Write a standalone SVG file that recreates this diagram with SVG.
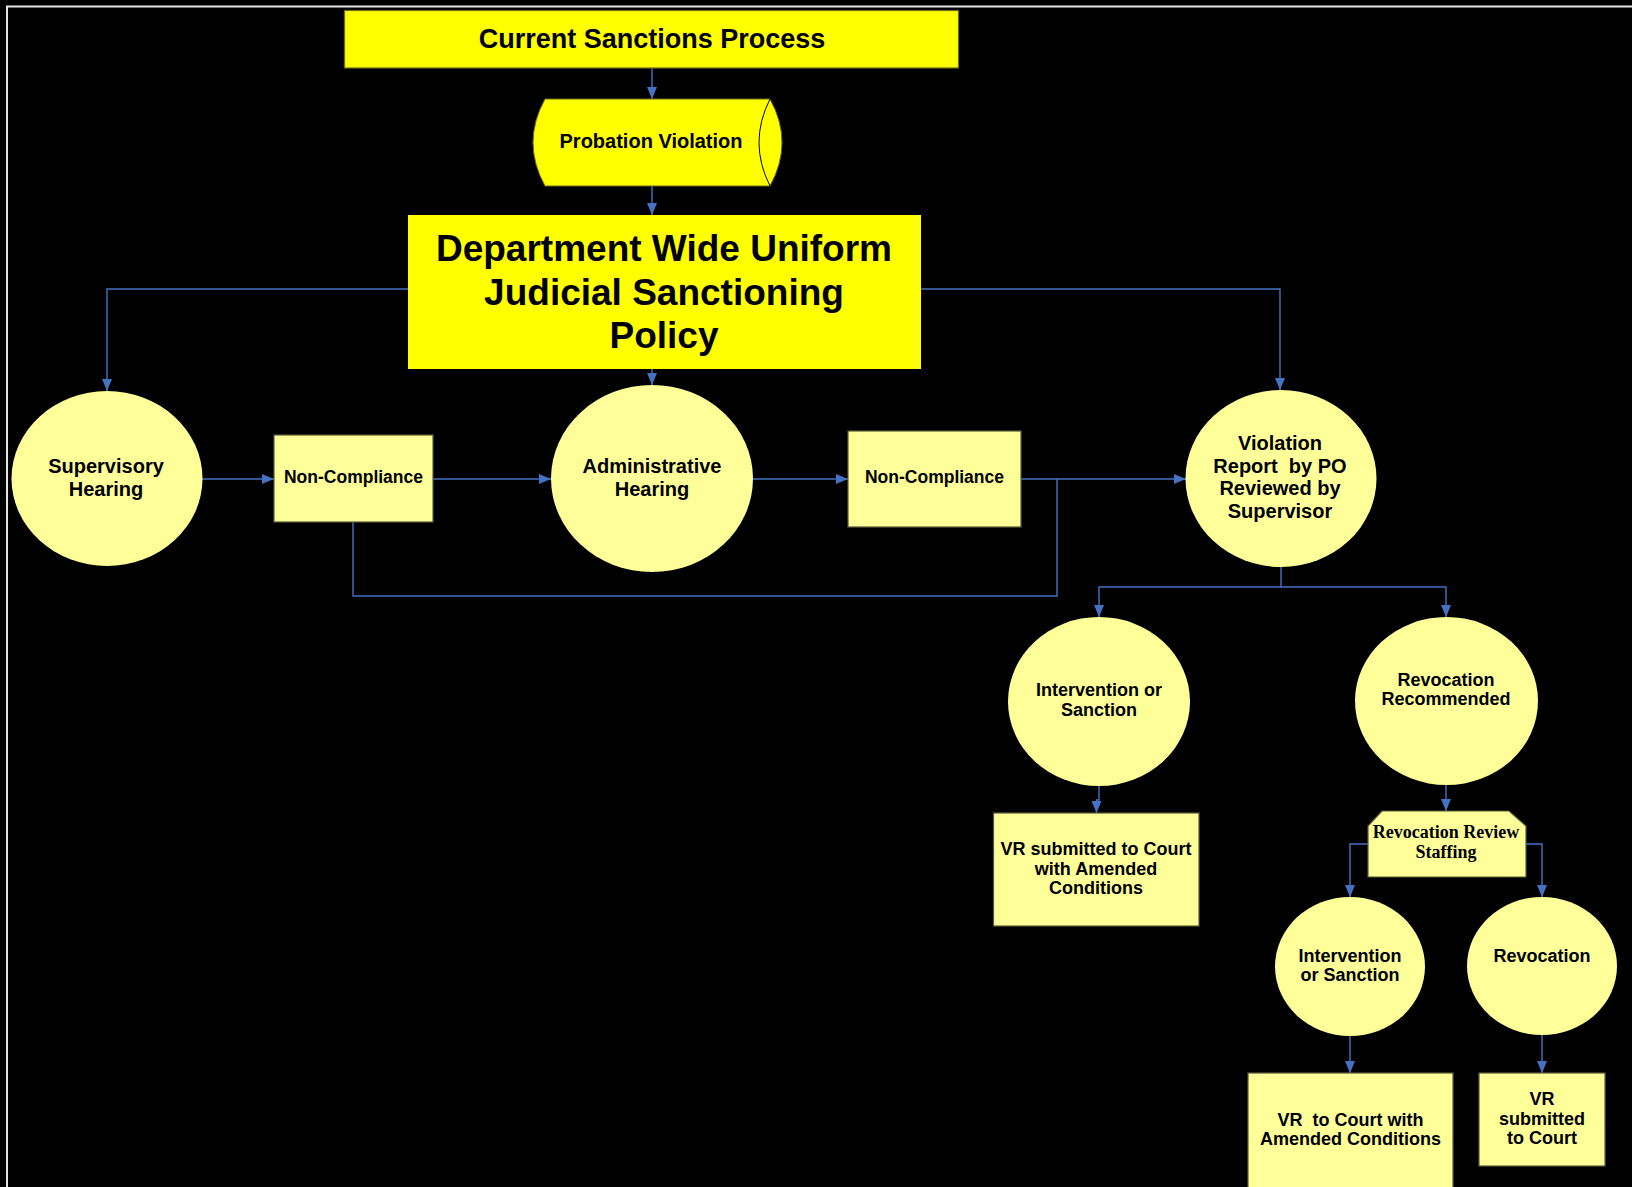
<svg xmlns="http://www.w3.org/2000/svg" width="1632" height="1187" viewBox="0 0 1632 1187">
<defs>
<marker id="ah" markerUnits="userSpaceOnUse" markerWidth="13" markerHeight="11" refX="12" refY="5" orient="auto">
<path d="M0,0 L12,5 L0,10 z" fill="#4472C4"/>
</marker>
<style>
.bg{fill:#000}
.bright{fill:#FFFF00}
.pale{fill:#FFFF99}
.box{stroke:#5a5a3a;stroke-width:1.2}
.t{font-family:"Liberation Sans",Arial,sans-serif;font-weight:bold;fill:#000;text-anchor:middle}
.s{font-family:"Liberation Serif","Times New Roman",serif;font-weight:bold;fill:#000;text-anchor:middle}
.c{fill:none;stroke:#4472C4;stroke-width:1.4}
.ca{fill:none;stroke:#4472C4;stroke-width:1.4;marker-end:url(#ah)}
</style>
</defs>
<rect class="bg" x="0" y="0" width="1632" height="1187"/>
<path d="M7,1187 V6.5 H1632" fill="none" stroke="#e6e6e6" stroke-width="2"/>

<g id="connectors">
<path class="ca" d="M652,68 V99"/>
<path class="ca" d="M652,186 V215"/>
<path class="ca" d="M408,289 H107 V391"/>
<path class="ca" d="M921,289 H1280 V390"/>
<path class="ca" d="M652,369 V385"/>
<path class="ca" d="M202,479 H274"/>
<path class="ca" d="M433,479 H551"/>
<path class="ca" d="M753,479 H848"/>
<path class="ca" d="M1021,479 H1186"/>
<path class="c" d="M353,522 V596 H1057 V479"/>
<path class="ca" d="M1281,567 V587 H1099 V617"/>
<path class="ca" d="M1281,587 H1446 V617"/>
<path class="ca" d="M1099,786 V800 H1096.5 V813"/>
<path class="ca" d="M1446,785 V811"/>
<path class="ca" d="M1368,844 H1350 V897"/>
<path class="ca" d="M1526,844 H1542 V897"/>
<path class="ca" d="M1350,1036 V1073"/>
<path class="ca" d="M1542,1035 V1073"/>
</g>

<g id="title">
<rect class="bright" x="344.5" y="10.5" width="614" height="57.5" stroke="#6b6b20" stroke-width="1.2"/>
<text class="t" x="652" y="47.5" font-size="27">Current Sanctions Process</text>
</g>

<g id="probation-violation">
<path class="bright" d="M545,99 H770 Q794,142.5 770,186 H545 Q521,142.5 545,99 Z" stroke="#6b6b20" stroke-width="1"/>
<path d="M770,99 Q748,142.5 770,186" fill="none" stroke="#000" stroke-width="1"/>
<text class="t" x="651" y="147.5" font-size="20">Probation Violation</text>
</g>

<g id="policy">
<rect class="bright" x="408" y="215" width="513" height="154"/>
<text class="t" x="664" y="261" font-size="37">Department Wide Uniform</text>
<text class="t" x="664" y="305" font-size="37">Judicial Sanctioning</text>
<text class="t" x="664" y="348" font-size="37">Policy</text>
</g>

<g id="supervisory-hearing">
<ellipse class="pale" cx="107" cy="478.5" rx="95.5" ry="87.5"/>
<text class="t" x="106" y="473" font-size="20">Supervisory</text>
<text class="t" x="106" y="495.5" font-size="20">Hearing</text>
</g>

<g id="non-compliance-1">
<rect class="pale box" x="274" y="435" width="159" height="87"/>
<text class="t" x="353.5" y="483" font-size="17.5">Non-Compliance</text>
</g>

<g id="administrative-hearing">
<ellipse class="pale" cx="652" cy="478.5" rx="101" ry="93.5"/>
<text class="t" x="652" y="473" font-size="20">Administrative</text>
<text class="t" x="652" y="495.5" font-size="20">Hearing</text>
</g>

<g id="non-compliance-2">
<rect class="pale box" x="848" y="431" width="173" height="96"/>
<text class="t" x="934.5" y="483" font-size="17.5">Non-Compliance</text>
</g>

<g id="violation-report">
<ellipse class="pale" cx="1281" cy="478.5" rx="95.5" ry="88.5"/>
<text class="t" x="1280" y="450" font-size="20">Violation</text>
<text class="t" x="1280" y="472.5" font-size="20" xml:space="preserve">Report  by PO</text>
<text class="t" x="1280" y="495" font-size="20">Reviewed by</text>
<text class="t" x="1280" y="517.5" font-size="20">Supervisor</text>
</g>

<g id="intervention-1">
<ellipse class="pale" cx="1099" cy="701.5" rx="91" ry="84.5"/>
<text class="t" x="1099" y="696" font-size="18">Intervention or</text>
<text class="t" x="1099" y="716" font-size="18">Sanction</text>
</g>

<g id="revocation-recommended">
<ellipse class="pale" cx="1446.5" cy="701" rx="91.5" ry="84"/>
<text class="t" x="1446" y="686" font-size="18">Revocation</text>
<text class="t" x="1446" y="705" font-size="18">Recommended</text>
</g>

<g id="vr-submitted-amended">
<rect class="pale box" x="993.5" y="813" width="205.5" height="113"/>
<text class="t" x="1096" y="855" font-size="18">VR submitted to Court</text>
<text class="t" x="1096" y="875" font-size="18">with Amended</text>
<text class="t" x="1096" y="894" font-size="18">Conditions</text>
</g>

<g id="revocation-review-staffing">
<path class="pale box" d="M1382,811 H1509 L1526,826 V877 H1368 V826 Z"/>
<text class="s" x="1446" y="838" font-size="18">Revocation Review</text>
<text class="s" x="1446" y="858" font-size="18">Staffing</text>
</g>

<g id="intervention-2">
<ellipse class="pale" cx="1350" cy="966.5" rx="75" ry="69.5"/>
<text class="t" x="1350" y="962" font-size="18">Intervention</text>
<text class="t" x="1350" y="981" font-size="18">or Sanction</text>
</g>

<g id="revocation">
<ellipse class="pale" cx="1542" cy="966" rx="75" ry="69"/>
<text class="t" x="1542" y="962" font-size="18">Revocation</text>
</g>

<g id="vr-to-court">
<rect class="pale box" x="1248" y="1073" width="205" height="120"/>
<text class="t" x="1350.5" y="1126" font-size="18" xml:space="preserve">VR  to Court with</text>
<text class="t" x="1350.5" y="1145" font-size="18">Amended Conditions</text>
</g>

<g id="vr-submitted">
<rect class="pale box" x="1479" y="1073" width="126" height="93"/>
<text class="t" x="1542" y="1105" font-size="18">VR</text>
<text class="t" x="1542" y="1125" font-size="18">submitted</text>
<text class="t" x="1542" y="1144" font-size="18">to Court</text>
</g>
</svg>
